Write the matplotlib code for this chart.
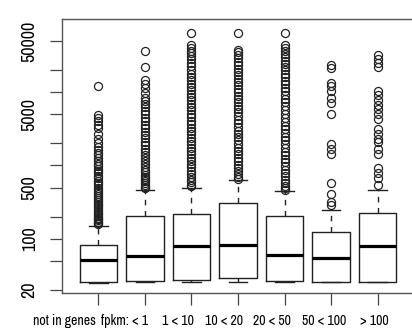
import numpy as np
import matplotlib
matplotlib.use("Agg")
from matplotlib import pyplot as plt
from matplotlib.ticker import FixedLocator, NullLocator
from matplotlib import font_manager
from matplotlib.transforms import ScaledTranslation

labels = ["not in genes", "fpkm: < 1", "1 < 10", "10 < 20", "20 < 50", "50 < 100", "> 100"]

# box stats (log scale)
whislo = [25.3, 25.5, 25.4, 25.6, 25.6, 25.6, 25.6]
q1 = [26.0, 26.2, 27.2, 29.0, 26.2, 26.0, 26.0]
med = [51, 58, 79, 82, 61, 54, 80]
q3 = [83, 206, 221, 311, 206, 123, 223]
whishi = [150, 470, 500, 640, 442, 250, 470]

fliers = [
    [12100, 4900, 4500, 4100, 3600, 3200, 2700, 2300, 2000, 1800, 1650, 1500, 1380, 1250,
     1150, 1050, 980, 900, 840, 780, 720, 670, 620, 580, 540, 500, 470, 440, 410, 385, 360,
     340, 320, 300, 285, 270, 255, 240, 228, 216, 205, 195, 186, 178, 170, 163, 157],
    [36000, 22300, 14700, 13000, 11400, 9900, 8400, 7600, 6900, 6200, 5600, 5000, 4500,
     4000, 3600, 3200, 2900, 2600, 2350, 2100, 1900, 1700, 1550, 1400, 1270, 1150, 1050,
     960, 880, 810, 750, 700, 650, 610, 570, 540, 510, 490],
    [63800, 43500, 40000, 37000, 34000, 31000, 28000, 25000, 22500, 20000, 18000, 16000,
     14500, 13000, 11800, 10600, 9500, 8600, 7800, 7000, 6300, 5700, 5100, 4600, 4100, 3700,
     3300, 3000, 2700, 2400, 2150, 1950, 1750, 1580, 1420, 1280, 1150, 1040, 940, 850, 770,
     700, 640, 590, 550, 520],
    [63800, 38200, 35000, 32000, 29000, 26000, 23500, 21000, 19000, 17000, 15300, 13800,
     12400, 11200, 10000, 9000, 8100, 7300, 6500, 5900, 5300, 4700, 4200, 3800, 3400, 3000,
     2700, 2450, 2200, 1950, 1750, 1580, 1420, 1280, 1150, 1030, 930, 840, 760, 700, 660],
    [63800, 43500, 40000, 36500, 33000, 30000, 27000, 24500, 22000, 19800, 17800, 16000,
     14300, 12800, 11500, 10300, 9200, 8200, 7300, 6500, 5800, 5000, 4400, 3900, 3500, 3100,
     2750, 2450, 2200, 1950, 1750, 1550, 1380, 1230, 1100, 980, 880, 790, 710, 640, 580,
     530, 490, 460],
    [23400, 21100, 13300, 12000, 10300, 8360, 7160, 4990, 1970, 1690, 1440, 584, 403, 320, 290],
    [31900, 28800, 24700, 22300, 10300, 9250, 7920, 6790, 5820, 4990, 4270, 3130, 2690, 2300,
     2080, 1690, 1440, 910, 787, 675, 548],
]

yticks = [20, 50, 100, 200, 500, 1000, 2000, 5000, 10000, 20000, 50000]
ytick_labels = ["20", "", "100", "", "500", "", "", "5000", "", "", "50000"]

# labels in the original sit left of their ticks (pixels)
label_shift = [-34, -20, -14, -14, -13, -7, -3]

# pick a condensed face if one is installed
narrow = sorted({f.name for f in font_manager.fontManager.ttflist
                 if "Narrow" in f.name or "Condensed" in f.name})
fam = narrow[0] if narrow else "DejaVu Sans"

stats = []
for i in range(len(labels)):
    stats.append(dict(whislo=whislo[i], q1=q1[i], med=med[i], q3=q3[i],
                      whishi=whishi[i], fliers=fliers[i]))

fig = plt.figure(figsize=(4.12, 3.36), dpi=100)
ax = fig.add_axes([62 / 412, 43 / 336, 352 / 412, 274 / 336])

ink = "#222222"
ax.bxp(stats, positions=range(1, 8), widths=0.8, capwidths=0.4,
       boxprops=dict(color=ink, lw=1.0),
       medianprops=dict(color="black", lw=2.3),
       whiskerprops=dict(color=ink, lw=1.0, linestyle=(0, (4, 4))),
       capprops=dict(color=ink, lw=1.0),
       flierprops=dict(marker="o", markerfacecolor="none", markeredgecolor=ink,
                       markersize=5.8, markeredgewidth=0.9))

ax.set_yscale("log")
ax.set_xlim(0.22, 7.78)
ax.set_ylim(18.2, 99800)
ax.yaxis.set_major_locator(FixedLocator(yticks))
ax.yaxis.set_minor_locator(NullLocator())
ax.set_yticklabels(ytick_labels, rotation=90, va="center", family=fam, fontsize=13)
ax.set_xticks(range(1, 8))
ax.set_xticklabels([""] * len(labels))
for i, lab in enumerate(labels):
    tr = ax.get_xaxis_transform() + ScaledTranslation(label_shift[i] / 100, -21 / 100,
                                                      fig.dpi_scale_trans)
    ax.text(i + 1, 0, lab, transform=tr, ha="center", va="top", family=fam, fontsize=10)

ax.tick_params(axis="both", length=8.5, width=0.9, color="#444444")
ax.tick_params(axis="y", pad=9)
for s in ax.spines.values():
    s.set_color("#555555")
    s.set_linewidth(1.0)

fig.savefig("out.png", dpi=100)
